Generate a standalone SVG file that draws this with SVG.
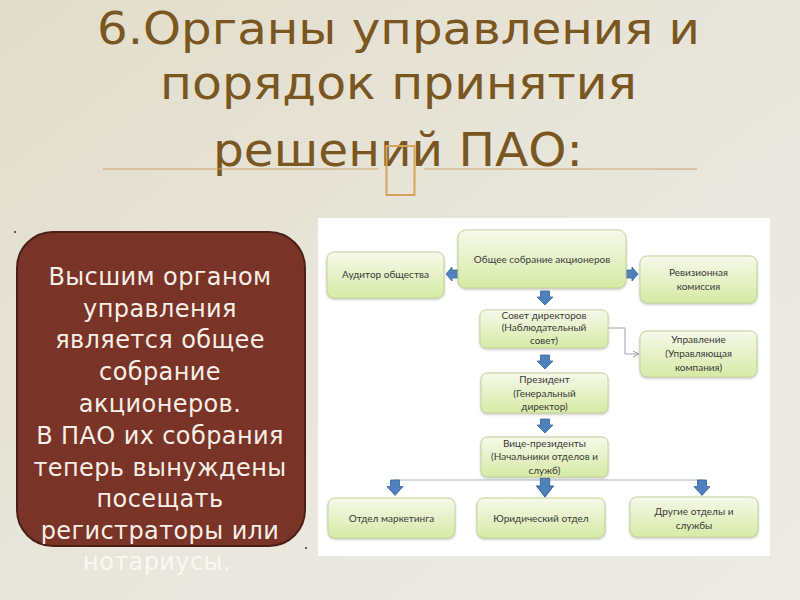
<svg xmlns="http://www.w3.org/2000/svg" width="800" height="600" viewBox="0 0 800 600">
<defs>
  <linearGradient id="bg" x1="0" y1="0" x2="1" y2="1">
    <stop offset="0" stop-color="#e2ddca"/>
    <stop offset="0.6" stop-color="#e9e7de"/>
    <stop offset="1" stop-color="#ecebe4"/>
  </linearGradient>
  <linearGradient id="nodeFill" x1="0" y1="0" x2="0" y2="1">
    <stop offset="0" stop-color="#f6f9ea"/>
    <stop offset="1" stop-color="#d6eaa4"/>
  </linearGradient>
  <filter id="sh" x="-10%" y="-10%" width="120%" height="130%">
    <feDropShadow dx="0" dy="1.2" stdDeviation="0.8" flood-color="#8a8a80" flood-opacity="0.5"/>
  </filter>
  <polygon id="downArrow" points="-4.5,0 4.5,0 4.5,6 8,6 0,14 -8,6 -4.5,6"/>
  <marker id="openHead" markerWidth="8" markerHeight="8" refX="7" refY="4" orient="auto" markerUnits="userSpaceOnUse">
    <path d="M1,1 L7,4 L1,7" fill="none" stroke="#8a96a8" stroke-width="0.9"/>
  </marker>
  <style>
    .title { font-family: "DejaVu Sans", "Liberation Sans", sans-serif; font-size: 47px; fill: #7a5620; text-anchor: middle; }
    .side { font-family: "DejaVu Sans", "Liberation Sans", sans-serif; font-size: 24px; fill: #f7efe6; text-anchor: middle; letter-spacing: 0.4px; }
    .node rect { fill: url(#nodeFill); stroke: #c3d39c; stroke-width: 1; filter: url(#sh); }
    .node text { font-family: Lato, "Liberation Sans", sans-serif; font-size: 10px; fill: #3a3a3a; text-anchor: middle; }
    .blk { fill: #4f81bd; stroke: #3a6496; stroke-width: 0.8; }
    .thin { fill: none; stroke: #9aa3b0; stroke-width: 1; }
  </style>
</defs>

<rect x="0" y="0" width="800" height="600" fill="url(#bg)"/>

<!-- Title -->
<g id="title">
  <text class="title" x="398.5" y="44" style="font-size:45px" textLength="603" lengthAdjust="spacingAndGlyphs">6.Органы управления и</text>
  <text class="title" x="398.5" y="99" textLength="477" lengthAdjust="spacingAndGlyphs">порядок принятия</text>
  <text class="title" x="398" y="166" textLength="370" lengthAdjust="spacingAndGlyphs">решений ПАО:</text>
  <line x1="103" y1="169" x2="378" y2="169" stroke="#c9a46a" stroke-width="1"/>
  <line x1="424" y1="169" x2="697" y2="169" stroke="#c9a46a" stroke-width="1"/>
  <rect x="386.5" y="146" width="28" height="49" fill="none" stroke="#d4a45e" stroke-width="2"/>
</g>

<!-- Left text box -->
<g id="side-box">
  <circle cx="15" cy="232" r="1" fill="#333"/>
  <circle cx="306" cy="548" r="1" fill="#333"/>
  <rect x="17" y="232" width="288" height="314" rx="36" ry="36" fill="#7a3427" stroke="#4a2015" stroke-width="2"/>
  <text class="side" x="160" y="285">Высшим органом</text>
  <text class="side" x="160" y="316.5">управления</text>
  <text class="side" x="160" y="348">является общее</text>
  <text class="side" x="160" y="380">собрание</text>
  <text class="side" x="160" y="412">акционеров.</text>
  <text class="side" x="160" y="444">В ПАО их собрания</text>
  <text class="side" x="160" y="475.5">теперь вынуждены</text>
  <text class="side" x="160" y="507">посещать</text>
  <text class="side" x="160" y="538.5">регистраторы или</text>
  <text class="side" x="157" y="570" style="fill:#fbf8f2">нотариусы.</text>
</g>

<!-- Chart panel -->
<rect id="panel" x="318" y="218" width="452" height="338" fill="#ffffff"/>

<g id="connectors">
  <!-- block arrows -->
  <polygon class="blk" points="458,270 452,270 452,267 446,274 452,281 452,278 458,278"/>
  <polygon class="blk" points="626,270 632,270 632,267 638,274 632,281 632,278 626,278"/>
  <use href="#downArrow" class="blk" transform="translate(545,291)"/>
  <use href="#downArrow" class="blk" transform="translate(545,355)"/>
  <use href="#downArrow" class="blk" transform="translate(545,419)"/>
  <line x1="395" y1="480" x2="703" y2="480" stroke="#aab4c0" stroke-width="1"/>
  <use href="#downArrow" class="blk" transform="translate(395,480) scale(1,1.1)"/>
  <use href="#downArrow" class="blk" transform="translate(545,478) scale(1.05,1.35)"/>
  <use href="#downArrow" class="blk" transform="translate(702,480) scale(1,1.1)"/>
  <!-- elbow connector -->
  <polyline class="thin" points="608,328 625,328 625,354 639,354" marker-end="url(#openHead)"/>
</g>

<g id="n-auditor" class="node">
  <rect x="327" y="252" width="117" height="46" rx="7"/>
  <text x="385.5" y="278">Аудитор общества</text>
</g>
<g id="n-general" class="node">
  <rect x="458" y="230" width="168" height="58" rx="8"/>
  <text x="542" y="263">Общее собрание акционеров</text>
</g>
<g id="n-revision" class="node">
  <rect x="640" y="256" width="117" height="47" rx="7"/>
  <text x="698.5" y="276">Ревизионная</text>
  <text x="698.5" y="290">комиссия</text>
</g>
<g id="n-board" class="node">
  <rect x="480" y="310" width="128" height="38" rx="6"/>
  <text x="544" y="319">Совет директоров</text>
  <text x="544" y="331">(Наблюдательный</text>
  <text x="544" y="344">совет)</text>
</g>
<g id="n-management" class="node">
  <rect x="640" y="331" width="117" height="46" rx="7"/>
  <text x="698.5" y="343">Управление</text>
  <text x="698.5" y="357">(Управляющая</text>
  <text x="698.5" y="371">компания)</text>
</g>
<g id="n-president" class="node">
  <rect x="481" y="373" width="127" height="40" rx="6"/>
  <text x="544.5" y="383">Президент</text>
  <text x="544.5" y="397">(Генеральный</text>
  <text x="544.5" y="410">директор)</text>
</g>
<g id="n-vice" class="node">
  <rect x="481" y="437" width="127" height="40" rx="6"/>
  <text x="544.5" y="447">Вице-президенты</text>
  <text x="544.5" y="460">(Начальники отделов и</text>
  <text x="544.5" y="474">служб)</text>
</g>
<g id="n-marketing" class="node">
  <rect x="328" y="498" width="127" height="40" rx="7"/>
  <text x="391.5" y="521.5">Отдел маркетинга</text>
</g>
<g id="n-legal" class="node">
  <rect x="477" y="498" width="128" height="40" rx="7"/>
  <text x="541" y="521.5">Юридический отдел</text>
</g>
<g id="n-other" class="node">
  <rect x="630" y="497" width="128" height="40" rx="7"/>
  <text x="694" y="515">Другие отделы и</text>
  <text x="694" y="529">службы</text>
</g>
</svg>
